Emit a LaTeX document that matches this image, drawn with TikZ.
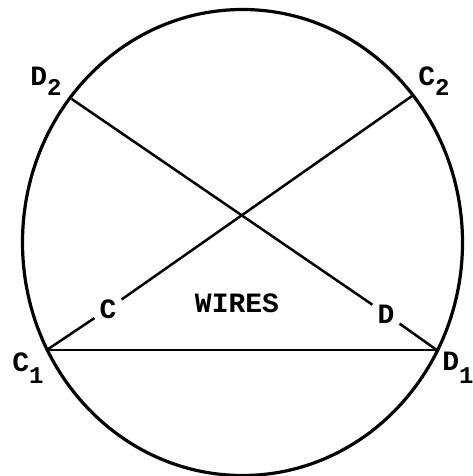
\documentclass[tikz,border=0pt]{standalone}
\usepackage{fontspec}
\setmonofont{Liberation Mono}
\begin{document}
\begin{tikzpicture}[x=1pt,y=-1pt,
  rim/.style={line width=3.2pt},
  wire/.style={line width=2.5pt},
  lab/.style={font=\ttfamily\bfseries\fontsize{28}{28}\selectfont, inner sep=0pt},
  gaplab/.style={font=\ttfamily\bfseries\fontsize{28}{28}\selectfont, inner sep=5pt}]
\useasboundingbox (0,0) rectangle (473,476);
\draw[rim] (242.5,242.5) ellipse [x radius=220, y radius=233];
\coordinate (C1) at (46.7,350);
\coordinate (D1) at (436.7,350);
\coordinate (C2) at (412,96);
\coordinate (D2) at (71.7,99);
\node[gaplab] (Clab) at (108,309) {C};
\node[gaplab] (Dlab) at (386,314) {D};
\node[lab] (wires) at (237,303) {WIRES};
\node[lab] (lC1) at (28,368) {C\raisebox{-0.45em}{\fontsize{24}{24}\selectfont 1}};
\node[lab] (lD1) at (458,368) {D\raisebox{-0.45em}{\fontsize{24}{24}\selectfont 1}};
\node[lab] (lD2) at (46,81) {D\raisebox{-0.35em}{\fontsize{24}{24}\selectfont 2}};
\node[lab] (lC2) at (434,81) {C\raisebox{-0.35em}{\fontsize{24}{24}\selectfont 2}};
\draw[wire] (C1) -- (D1);
\draw[wire] (C1) -- (Clab);
\draw[wire] (Clab) -- (C2);
\draw[wire] (D2) -- (Dlab);
\draw[wire] (Dlab) -- (D1);
\end{tikzpicture}
\end{document}
